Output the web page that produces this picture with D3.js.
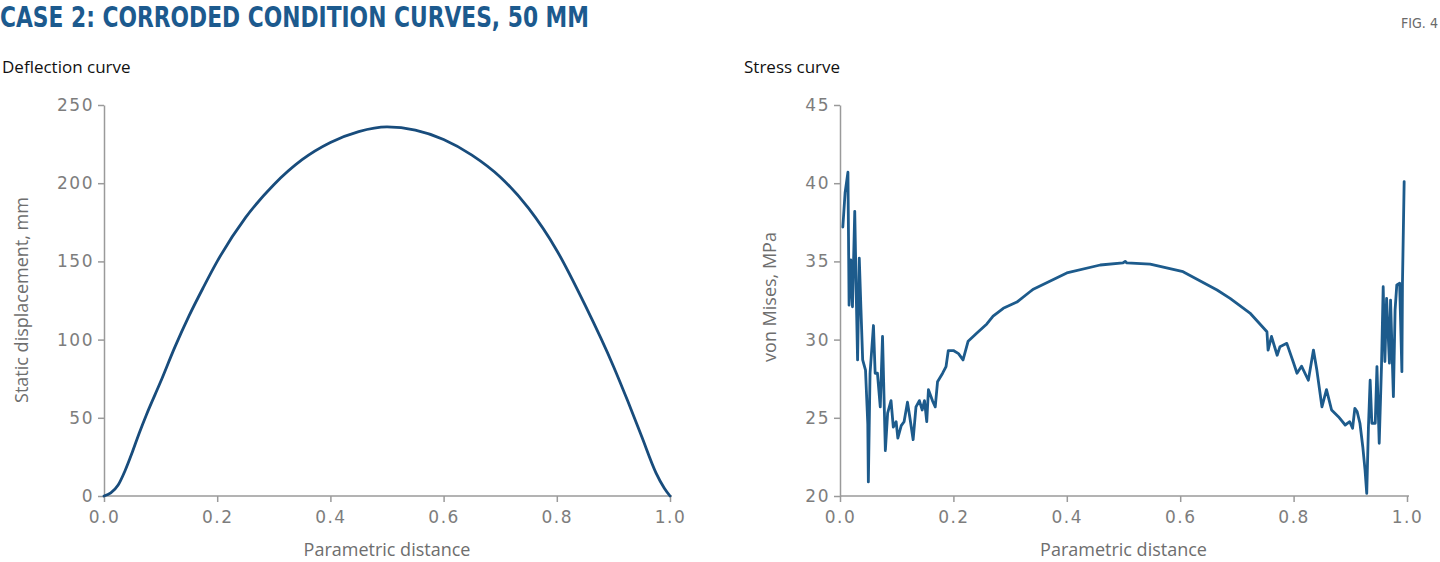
<!DOCTYPE html>
<html><head><meta charset="utf-8">
<script src="https://cdn.jsdelivr.net/npm/d3@7"></script>
<style>
html,body{margin:0;padding:0;background:#fff;}
svg{display:block;}
.tick text{font-family:"DejaVu Sans",sans-serif;font-size:17px;fill:#7d7d7d;letter-spacing:1.5px;}
.axis path,.axis line{stroke:#9a9a9a;stroke-width:1.5;}
</style></head><body>
<svg id="c" width="1440" height="562"></svg>
<script>
// ---------- DATA ----------
const titleText = "CASE 2: CORRODED CONDITION CURVES, 50 MM";
const figLabel = "FIG. 4";
const xTicks = [0, 0.2, 0.4, 0.6, 0.8, 1.0];
const deflTicks = [0, 50, 100, 150, 200, 250];
const stressTicks = [20, 25, 30, 35, 40, 45];

// Deflection curve: parametric distance vs static displacement (mm)
const deflX = [0, 0.012, 0.025, 0.037, 0.05, 0.062, 0.075, 0.1, 0.125, 0.15, 0.175, 0.2, 0.25, 0.3, 0.35, 0.4, 0.45, 0.5, 0.55, 0.6, 0.65, 0.7, 0.75, 0.8, 0.85, 0.9, 0.925, 0.95, 0.975, 0.99, 1.0];
const deflY = [0, 2, 7, 16, 28, 40, 52, 73, 95, 115, 133, 150, 178, 199, 215, 226, 233, 236, 234, 228, 218, 204, 184, 157, 122, 83, 61, 38, 15, 5, 0];

// Stress curve: parametric distance vs von Mises (MPa)
const stressX = [0.005, 0.009, 0.014, 0.015, 0.016, 0.019, 0.022, 0.026, 0.029, 0.031, 0.034, 0.037, 0.040, 0.045, 0.049, 0.050, 0.053, 0.059, 0.062, 0.066, 0.071, 0.075, 0.080, 0.084, 0.090, 0.094, 0.099, 0.102, 0.108, 0.113, 0.119, 0.123, 0.129, 0.134, 0.140, 0.145, 0.149, 0.153, 0.156, 0.163, 0.168, 0.172, 0.181, 0.187, 0.191, 0.200, 0.209, 0.217, 0.226, 0.241, 0.259, 0.270, 0.288, 0.312, 0.335, 0.340, 0.400, 0.459, 0.499, 0.503, 0.506, 0.547, 0.605, 0.665, 0.688, 0.723, 0.753, 0.755, 0.761, 0.771, 0.776, 0.788, 0.800, 0.806, 0.814, 0.826, 0.835, 0.841, 0.850, 0.858, 0.867, 0.879, 0.891, 0.899, 0.904, 0.908, 0.912, 0.917, 0.922, 0.926, 0.929, 0.932, 0.935, 0.938, 0.944, 0.947, 0.951, 0.955, 0.958, 0.961, 0.964, 0.969, 0.971, 0.976, 0.979, 0.982, 0.987, 0.991, 0.992, 0.995];
const stressY = [37.2, 39.4, 40.7, 36.6, 32.2, 35.1, 32.1, 38.2, 32.3, 28.7, 35.2, 31.9, 28.7, 28.05, 24.6, 20.9, 27.85, 30.9, 27.85, 27.85, 25.7, 30.2, 22.9, 25.3, 26.1, 24.4, 24.75, 23.7, 24.5, 24.75, 26.0, 25.07, 23.6, 25.7, 26.1, 25.5, 26.1, 24.75, 26.8, 26.1, 25.7, 27.3, 27.85, 28.27, 29.3, 29.3, 29.1, 28.7, 29.9, 30.4, 31.0, 31.5, 32.0, 32.4, 33.06, 33.2, 34.26, 34.77, 34.9, 35.0, 34.9, 34.83, 34.34, 33.17, 32.64, 31.7, 30.5, 29.33, 30.2, 29.0, 29.55, 29.76, 28.5, 27.85, 28.3, 27.4, 29.33, 28.05, 25.7, 26.8, 25.5, 25.07, 24.54, 24.75, 24.33, 25.6, 25.4, 24.65, 23.15, 21.66, 20.17, 24.43, 27.4, 24.65, 24.65, 28.27, 23.37, 28.27, 33.38, 28.6, 32.64, 28.49, 32.53, 26.35, 31.9, 33.5, 33.6, 27.95, 33.6, 40.1];

// ---------- DRAW ----------
const svg = d3.select("#c");

svg.append("text").attr("x", 0).attr("y", 27)
  .attr("font-family", "'Liberation Sans Narrow','DejaVu Sans Condensed',sans-serif")
  .attr("font-weight", "bold").attr("font-size", 29).attr("fill", "#1c5a8e")
  .attr("textLength", 589).attr("lengthAdjust", "spacingAndGlyphs")
  .text(titleText);

svg.append("text").attr("x", 1401).attr("y", 28)
  .attr("font-family", "'Liberation Sans Narrow','DejaVu Sans Condensed',sans-serif")
  .attr("font-size", 14).attr("fill", "#6a6a6a")
  .attr("textLength", 37).attr("lengthAdjust", "spacingAndGlyphs")
  .text(figLabel);

function panel(opts) {
  const x = d3.scaleLinear().domain([0, 1]).range([opts.x0, opts.x1]);
  const y = d3.scaleLinear().domain(opts.yDomain).range([496, 105]);

  svg.append("text").attr("x", opts.titleX).attr("y", 73)
    .attr("font-family", "'Open Sans',sans-serif").attr("font-size", 17).attr("fill", "#111")
    .text(opts.title);

  svg.append("g").attr("class", "axis").attr("transform", `translate(0,${y(opts.yDomain[0])})`)
    .call(d3.axisBottom(x).tickValues(xTicks).tickFormat(d3.format(".1f")).tickSizeInner(6).tickSizeOuter(0).tickPadding(9))
    .call(g => g.select(".domain").attr("d", `M${opts.x0},0H${opts.x1 + 2}`));

  svg.append("g").attr("class", "axis").attr("transform", `translate(${opts.x0},0)`)
    .call(d3.axisLeft(y).tickValues(opts.yTicks).tickSizeInner(6).tickSizeOuter(0).tickPadding(4));

  svg.selectAll(".tick text").attr("font-family", null);

  svg.append("text").attr("x", (opts.x0 + opts.x1) / 2).attr("y", 556)
    .attr("text-anchor", "middle")
    .attr("font-family", "'Open Sans',sans-serif").attr("font-size", 18).attr("fill", "#6e6e6e")
    .text("Parametric distance");

  svg.append("text")
    .attr("transform", `translate(${opts.yLabelX},${opts.yLabelY}) rotate(-90)`)
    .attr("text-anchor", "middle")
    .attr("font-family", "'Open Sans',sans-serif").attr("font-size", 18).attr("fill", "#6e6e6e")
    .text(opts.yLabel);

  const line = d3.line().x((d, i) => x(opts.xs[i])).y((d, i) => y(opts.ys[i])).curve(opts.curve);
  svg.append("path").datum(opts.ys).attr("d", line)
    .attr("fill", "none").attr("stroke", opts.color).attr("stroke-width", opts.sw)
    .attr("stroke-linejoin", "round").attr("stroke-linecap", "round");
}

panel({ x0: 104, x1: 670, yDomain: [0, 250], yTicks: deflTicks, title: "Deflection curve", titleX: 2,
  yLabel: "Static displacement, mm", yLabelX: 28, yLabelY: 300,
  xs: deflX, ys: deflY, color: "#184c7c", sw: 2.8, curve: d3.curveMonotoneX });

panel({ x0: 840, x1: 1407, yDomain: [20, 45], yTicks: stressTicks, title: "Stress curve", titleX: 744,
  yLabel: "von Mises, MPa", yLabelX: 776, yLabelY: 297,
  xs: stressX, ys: stressY, color: "#1d5b8c", sw: 2.8, curve: d3.curveLinear });
</script>
</body></html>
